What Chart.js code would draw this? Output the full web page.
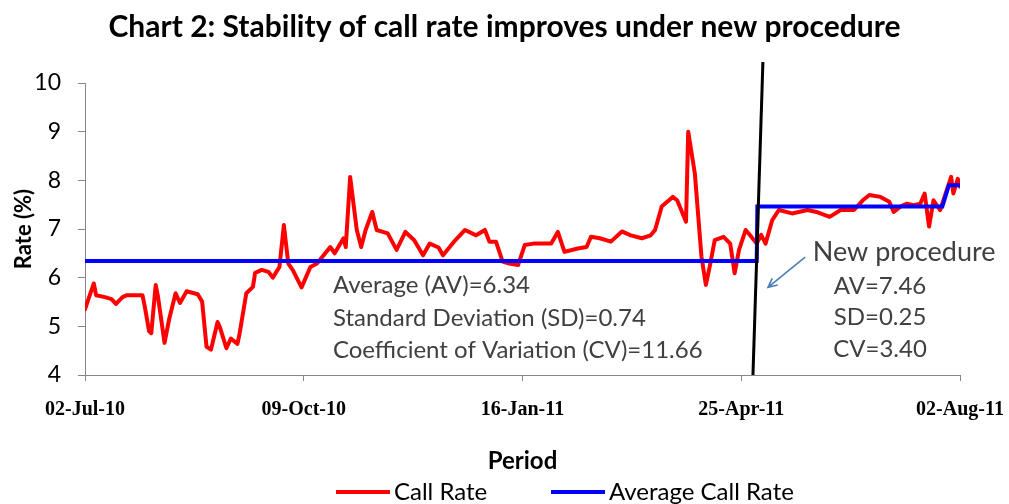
<!DOCTYPE html>
<html>
<head>
<meta charset="utf-8">
<script src="https://cdn.jsdelivr.net/npm/chart.js@4.4.1/dist/chart.umd.min.js"></script>
<style>
  html, body { margin: 0; padding: 0; background: #ffffff; }
  #wrap { width: 1009px; height: 504px; }
</style>
</head>
<body>
<div id="wrap"><canvas id="c" width="1009" height="504"></canvas></div>
<script>
// ---- DATA (day offsets counted from 02-Jul-2010) ----
const callRateDays = [0,2,4,5,9,12,14,17,19,26,27,29,30,32,33,36,38,41,43,46,51,53,55,57,60,61,64,66,69,70,73,76,77,80,83,85,88,90,92,94,98,102,105,111,113,117,118,120,123,125,127,130,132,137,141,145,149,153,156,160,162,167,172,177,181,183,186,189,192,196,199,203,211,214,217,223,227,229,233,238,243,247,252,256,258,261,266,268,272,273,276,279,281,283,285,289,292,294,296,299,301,304,306,308,311,314,320,327,331,337,342,348,352,355,360,364,366,369,372,375,378,380,382,384,387,390,392,393,395,396];
const callRateValues = [5.35,5.62,5.88,5.64,5.6,5.56,5.46,5.6,5.64,5.64,5.42,4.9,4.86,5.85,5.62,4.66,5.13,5.68,5.48,5.72,5.66,5.51,4.58,4.52,5.09,4.99,4.55,4.75,4.64,4.86,5.68,5.81,6.1,6.16,6.12,6.0,6.22,7.08,6.29,6.16,5.8,6.22,6.29,6.63,6.5,6.81,6.63,8.07,6.98,6.63,6.98,7.35,6.98,6.91,6.57,6.94,6.77,6.46,6.7,6.62,6.46,6.74,6.98,6.87,6.98,6.74,6.74,6.33,6.29,6.26,6.67,6.7,6.7,6.94,6.53,6.6,6.63,6.84,6.81,6.74,6.95,6.87,6.81,6.87,6.98,7.46,7.66,7.59,7.15,9.0,8.14,6.43,5.85,6.29,6.77,6.84,6.7,6.09,6.57,6.98,6.87,6.7,6.88,6.7,7.18,7.39,7.32,7.39,7.35,7.25,7.39,7.39,7.59,7.7,7.66,7.56,7.35,7.46,7.52,7.49,7.52,7.73,7.05,7.59,7.39,7.8,8.07,7.73,8.03,7.87];

const averageDays = [0, 304, 304.3, 388, 391, 396];
const averageValues = [6.34, 6.34, 7.46, 7.46, 7.9, 7.9];

const tickDays = [0, 99, 198, 297, 396];
const tickLabels = ['02-Jul-10', '09-Oct-10', '16-Jan-11', '25-Apr-11', '02-Aug-11'];

const seriesNames = ['Call Rate', 'Average Call Rate'];
const leftStats = ['Average (AV)=6.34', 'Standard Deviation (SD)=0.74', 'Coefficient of Variation (CV)=11.66'];
const rightHeading = 'New procedure';
const rightStats = ['AV=7.46', 'SD=0.25', 'CV=3.40'];

// ---- annotation placement (in axis units) ----
const procLine = { x1: 302.3, y1: 4, x2: 306.8, y2: 10.43 };
const arrow = { x1: 325.9, y1: 6.42, x2: 309.1, y2: 5.80 };
const leftTextPos = { x: 112.2, ys: [5.85, 5.16, 4.51] };
const rightHeadPos = { x: 370.7, y: 6.53 };
const rightTextPos = { x: 359.8, ys: [5.83, 5.18, 4.53] };

const SANS = 'Lato, "Open Sans", sans-serif';
const SERIF = '"Liberation Serif", "DejaVu Serif", serif';

const decor = {
  id: 'decor',
  afterDatasetsDraw(chart) {
    const { ctx, scales: { x, y } } = chart;
    ctx.save();
    // slanted procedure-change line
    ctx.strokeStyle = '#000000';
    ctx.lineWidth = 3;
    ctx.beginPath();
    ctx.moveTo(x.getPixelForValue(procLine.x1), y.getPixelForValue(procLine.y1));
    ctx.lineTo(x.getPixelForValue(procLine.x2), y.getPixelForValue(procLine.y2));
    ctx.stroke();

    // arrow
    const ax1 = x.getPixelForValue(arrow.x1), ay1 = y.getPixelForValue(arrow.y1);
    const ax2 = x.getPixelForValue(arrow.x2), ay2 = y.getPixelForValue(arrow.y2);
    ctx.strokeStyle = '#4a7ebb';
    ctx.lineWidth = 1.6;
    ctx.beginPath();
    ctx.moveTo(ax1, ay1);
    ctx.lineTo(ax2, ay2);
    const ang = Math.atan2(ay2 - ay1, ax2 - ax1);
    const hl = 10;
    ctx.moveTo(ax2 - hl * Math.cos(ang - 0.45), ay2 - hl * Math.sin(ang - 0.45));
    ctx.lineTo(ax2, ay2);
    ctx.lineTo(ax2 - hl * Math.cos(ang + 0.45), ay2 - hl * Math.sin(ang + 0.45));
    ctx.stroke();

    // statistics texts
    ctx.fillStyle = '#404040';
    ctx.textBaseline = 'middle';
    ctx.textAlign = 'left';
    ctx.font = '24px ' + SANS;
    leftStats.forEach((t, i) => {
      ctx.fillText(t, x.getPixelForValue(leftTextPos.x), y.getPixelForValue(leftTextPos.ys[i]));
    });
    ctx.textAlign = 'center';
    ctx.font = '27px ' + SANS;
    ctx.fillText(rightHeading, x.getPixelForValue(rightHeadPos.x), y.getPixelForValue(rightHeadPos.y));
    ctx.font = '24px ' + SANS;
    rightStats.forEach((t, i) => {
      ctx.fillText(t, x.getPixelForValue(rightTextPos.x), y.getPixelForValue(rightTextPos.ys[i]));
    });
    ctx.restore();
  },
  afterDraw(chart) {
    // legend (line sample + label)
    const { ctx } = chart;
    const ly = chart.height - 12;
    const starts = [336, 551];
    ctx.save();
    ctx.font = '24px ' + SANS;
    ctx.textBaseline = 'middle';
    ctx.textAlign = 'left';
    chart.data.datasets.forEach((ds, i) => {
      const sx = starts[i];
      ctx.strokeStyle = ds.borderColor;
      ctx.lineWidth = 4;
      ctx.beginPath();
      ctx.moveTo(sx, ly);
      ctx.lineTo(sx + 54, ly);
      ctx.stroke();
      ctx.fillStyle = '#000000';
      ctx.fillText(ds.label, sx + 58, ly);
    });
    ctx.restore();
  }
};

function build() {
  const ctx = document.getElementById('c').getContext('2d');
  new Chart(ctx, {
    type: 'line',
    data: {
      datasets: [
        {
          label: seriesNames[0],
          data: callRateDays.map((d, i) => ({ x: d, y: callRateValues[i] })),
          borderColor: '#ff0000',
          backgroundColor: '#ff0000',
          borderWidth: 4,
          pointRadius: 0,
          tension: 0,
          borderJoinStyle: 'round',
          borderCapStyle: 'round',
          order: 1
        },
        {
          label: seriesNames[1],
          data: averageDays.map((d, i) => ({ x: d, y: averageValues[i] })),
          borderColor: '#0000ff',
          backgroundColor: '#0000ff',
          borderWidth: 4,
          pointRadius: 0,
          tension: 0,
          order: 0
        }
      ]
    },
    options: {
      responsive: false,
      animation: false,
      devicePixelRatio: 1,
      layout: { padding: { left: 0, right: 0, top: 0, bottom: 0 } },
      plugins: {
        legend: { display: false },
        tooltip: { enabled: false },
        title: {
          display: true,
          text: 'Chart 2: Stability of call rate improves under new procedure',
          color: '#000000',
          font: { family: SANS, size: 30, weight: 'bold' },
          padding: { top: 9, bottom: 38 }
        }
      },
      scales: {
        x: {
          type: 'linear',
          min: tickDays[0],
          max: tickDays[tickDays.length - 1],
          afterBuildTicks(scale) { scale.ticks = tickDays.map(v => ({ value: v })); },
          afterFit(scale) { scale.height = 129; scale.paddingLeft = 0; scale.paddingRight = 49; },
          border: { display: true, color: '#868686', width: 1 },
          grid: { drawOnChartArea: false, drawTicks: true, tickLength: 6, color: '#868686' },
          ticks: {
            autoSkip: false, maxRotation: 0, padding: 17,
            color: '#000000',
            font: { family: SERIF, size: 20, weight: 'bold' },
            callback: (v, i) => tickLabels[i]
          },
          title: {
            display: true, text: 'Period', color: '#000000',
            font: { family: SANS, size: 24, weight: 'bold' },
            padding: { top: 0, bottom: 28 }
          }
        },
        y: {
          min: 4, max: 10,
          afterFit(scale) { scale.width = 85; },
          border: { display: true, color: '#868686', width: 1 },
          grid: { drawOnChartArea: false, drawTicks: true, tickLength: 7, color: '#868686' },
          ticks: {
            stepSize: 1, padding: 17, color: '#000000',
            font: { family: SANS, size: 23 }
          },
          title: {
            display: true, text: 'Rate (%)', color: '#000000',
            font: { family: SANS, size: 22, weight: 'bold' },
            padding: { top: 11, bottom: 0 }
          }
        }
      }
    },
    plugins: [decor]
  });
}

const loads = ['bold 30px Lato', '24px Lato', 'bold 20px "Liberation Serif"'].map(f => document.fonts.load(f).catch(() => null));
Promise.all(loads).then(build, build);
</script>
</body>
</html>
